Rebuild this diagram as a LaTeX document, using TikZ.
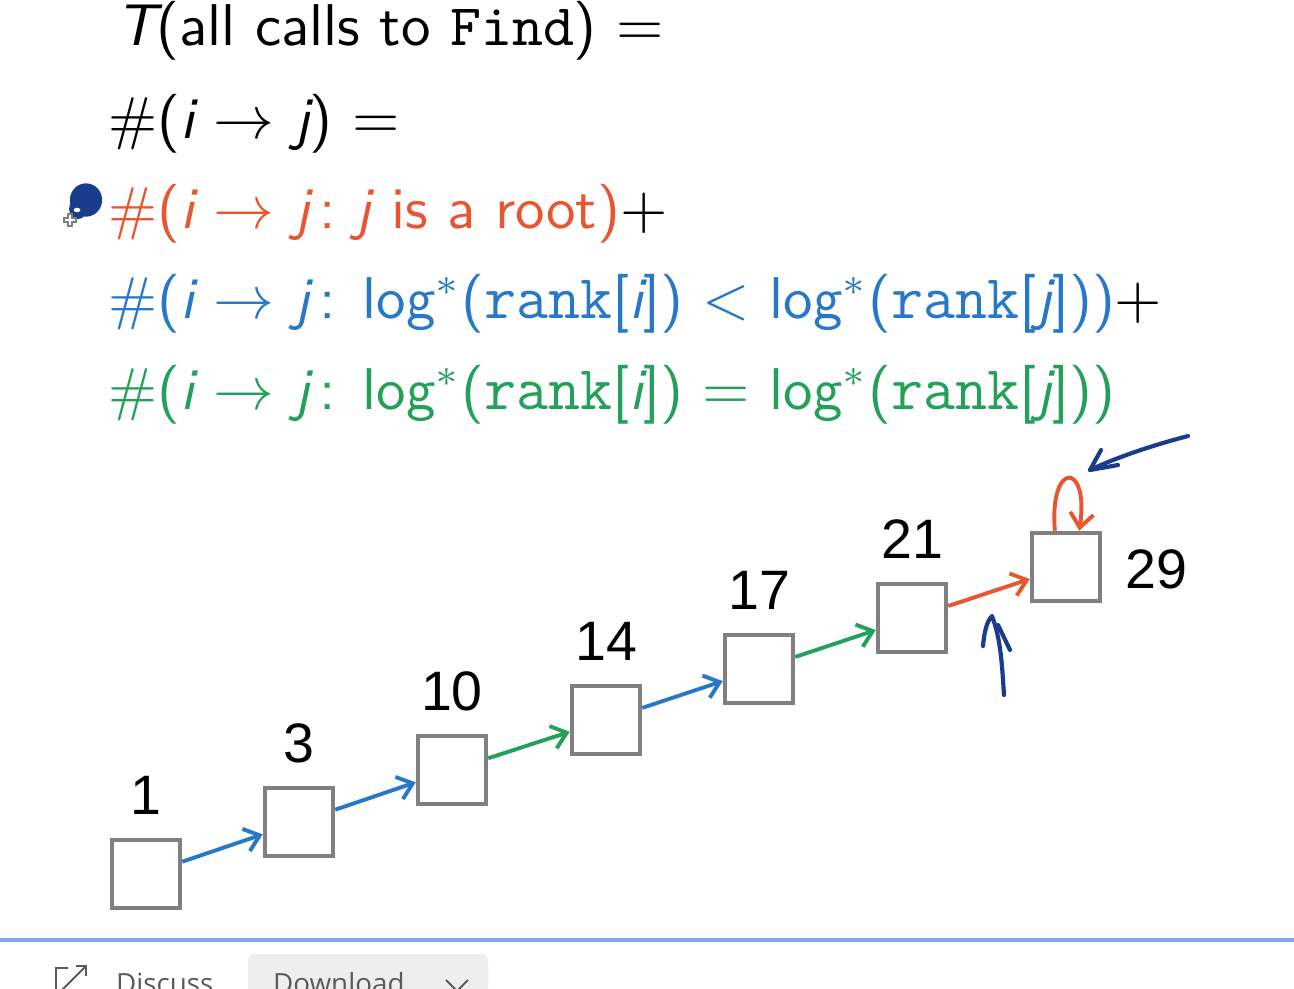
\documentclass[tikz,border=0pt]{standalone}
\usepackage{fontspec}
\newfontfamily\numfont{Liberation Sans}
\newfontfamily\uifont{Open Sans}
\usetikzlibrary{arrows.meta,calc}
\definecolor{rd}{RGB}{232,85,48}
\definecolor{bl}{RGB}{40,120,200}
\definecolor{gr}{RGB}{35,160,90}
\definecolor{navy}{RGB}{25,60,140}
\definecolor{boxgray}{RGB}{128,128,128}
\definecolor{barblue}{RGB}{130,168,224}
\definecolor{uigray}{RGB}{90,90,90}
\newcommand\mi[1]{{\itshape #1}}
\newcommand\rk{{\ttfamily\fontsize{11.2}{12}\selectfont rank}}
\begin{document}
\begin{tikzpicture}[x=0.18pt,y=-0.18pt,
  txt/.style={font=\fontsize{10.6}{12}\selectfont\sffamily, inner sep=0pt, anchor=base west},
  num/.style={font=\fontsize{10}{12}\selectfont\numfont, inner sep=0pt, anchor=base},
  cell/.style={draw=boxgray, line width=0.85pt, minimum size=12.2pt, inner sep=0pt, fill=white},
  link/.style={line width=0.7pt, -{Straight Barb[length=2.6pt,width=4.2pt,line width=0.7pt]}},
  hand/.style={draw=navy, line width=0.75pt, line cap=round, line join=round},
  ui/.style={font=\fontsize{5}{6}\selectfont\uifont, text=uigray, inner sep=0pt, anchor=base west}]
\useasboundingbox (0,0) rectangle (1294,988);
\clip (0,0) rectangle (1294,988);
\fill[white] (0,0) rectangle (1294,988);

% text lines
\node[txt] (l1) at (115,45) {\mi{T}(all calls to \texttt{Find}) $=$};
\node[txt] (l2) at (107,138) {\#(\mi{i} $\rightarrow$ \mi{j}) $=$};
\node[txt, text=rd] (l3) at (107,228) {\#(\mi{i} $\rightarrow$ \mi{j}\,:\ \mi{j} is a root)\textcolor{black}{$+$}};
\node[txt, text=bl] (l4) at (107,318) {\#(\mi{i} $\rightarrow$ \mi{j}\,:\hspace{0.45em}log$^*$(\rk[\mi{i}]) $<$ log$^*$(\rk[\mi{j}]))\textcolor{black}{$+$}};
\node[txt, text=gr] (l5) at (107,409) {\#(\mi{i} $\rightarrow$ \mi{j}\,:\hspace{0.45em}log$^*$(\rk[\mi{i}]) $=$ log$^*$(\rk[\mi{j}]))};

% blob and cursor
\fill[navy] (86,200) ellipse [x radius=2.9pt, y radius=3.0pt];
\fill[navy] (78,209) ellipse [x radius=1.6pt, y radius=1.8pt];
\fill[white] (77,210) ellipse [x radius=0.6pt, y radius=0.4pt];
\draw[gray, line width=0.3pt, fill=white] (68,214) -- (72,214) -- (72,218) -- (76,218) -- (76,222) -- (72,222) -- (72,226) -- (68,226) -- (68,222) -- (64,222) -- (64,218) -- (68,218) -- cycle;

% cells
\node[cell] (b1) at (146,874) {};
\node[cell] (b3) at (299,822) {};
\node[cell] (b10) at (452,770) {};
\node[cell] (b14) at (606,720) {};
\node[cell] (b17) at (759,669) {};
\node[cell] (b21) at (912,618) {};
\node[cell] (b29) at (1066,567) {};

% labels
\node[num] (n1) at ($(b1.north)+(0,-23)$) {1};
\node[num] (n3) at ($(b3.north)+(0,-23)$) {3};
\node[num] (n10) at ($(b10.north)+(0,-23)$) {10};
\node[num] (n14) at ($(b14.north)+(0,-23)$) {14};
\node[num] (n17) at ($(b17.north)+(0,-23)$) {17};
\node[num] (n21) at ($(b21.north)+(0,-23)$) {21};
\node[num, anchor=base west] (n29) at ($(b29.east)+(22,21)$) {29};

% links
\draw[link, bl] (b1) -- (b3);
\draw[link, bl] (b3) -- (b10);
\draw[link, gr] (b10) -- (b14);
\draw[link, bl] (b14) -- (b17);
\draw[link, gr] (b17) -- (b21);
\draw[link, rd] (b21) -- (b29);
\draw[link, rd] ([xshift=-2pt]b29.north) .. controls +(-6,-70) and +(10,-70) .. ([xshift=2.4pt]b29.north);

% hand-drawn arrows
\coordinate (h1s) at (1188,436);
\coordinate (h1t) at (1090,470);
\draw[hand] (h1s) .. controls (1150,446) and (1115,458) .. (h1t);
\draw[hand] (1101,450) -- (h1t) -- (1118,465);
\coordinate (h2s) at (1004,695);
\coordinate (h2t) at (992,616);
\draw[hand] (h2s) .. controls (1002,665) and (1001,640) .. (h2t) .. controls (986,622) and (984,635) .. (983,646);
\draw[hand] (998,625) -- (1010,650);

% bottom bar
\draw[barblue, line width=0.75pt] (0,940) -- (1294,940);
\draw[uigray, line width=0.35pt] (68,968) -- (56,968) -- (56,992);
\draw[uigray, line width=0.35pt] (62,990) -- (86,966);
\draw[uigray, line width=0.35pt] (76,966) -- (86,966) -- (86,976);
\node[ui] (disc) at (115,993) {Discuss};
\fill[gray!13] (248,954) [rounded corners=1.2pt] rectangle (488,1020);
\node[ui] (dl) at (272,993) {Download};
\draw[uigray, line width=0.35pt] (446,980) -- (457,991) -- (468,980);
\end{tikzpicture}
\end{document}
